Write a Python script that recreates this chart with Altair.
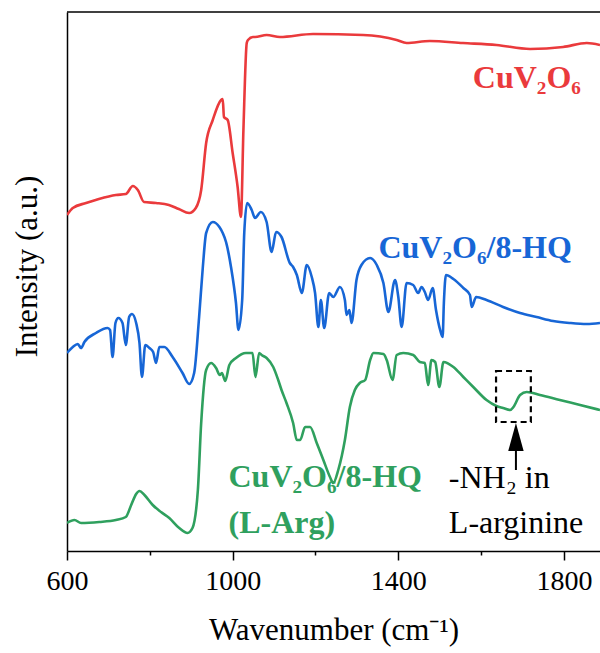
import altair as alt
import pandas as pd

# ---- data (wavenumber in cm-1, intensity in a.u.) ----
red_wn = [600, 614, 646, 677, 718, 742, 759, 771, 786, 815, 846, 870, 895, 911, 924, 936, 952, 972, 976, 979,
          988, 1000, 1012, 1020, 1026, 1034, 1037, 1049, 1054, 1082, 1114, 1194, 1315, 1396, 1420, 1476, 1556,
          1637, 1718, 1798, 1855, 1887]
red_int = [336, 343, 348, 352, 356, 357, 365, 361, 349, 348, 346, 342, 338, 343, 361, 408, 431, 451, 452, 434,
           431, 398, 364, 334, 421, 508, 511, 514, 514, 516, 514, 517, 516, 511, 508, 510, 508,
           506, 502, 504, 508, 506]

blue_wn = [600, 614, 626, 634, 642, 670, 698, 704, 710, 717, 724, 734, 742, 750, 757, 767, 775, 781, 789, 799,
           808, 815, 823, 835, 855, 879, 895, 907, 919, 928, 936, 952, 968, 976, 984, 996, 1008, 1014, 1023,
           1028, 1035, 1046, 1054, 1068, 1082, 1094, 1105, 1118, 1138, 1146, 1155, 1167, 1179, 1191, 1199,
           1207, 1213, 1221, 1233, 1243, 1259, 1271, 1275, 1282, 1287, 1299, 1311, 1332, 1348, 1364, 1376,
           1392, 1400, 1408, 1420, 1436, 1448, 1456, 1464, 1472, 1483, 1491, 1501, 1507, 1510, 1515, 1533,
           1557, 1573, 1577, 1588, 1613, 1653, 1694, 1734, 1774, 1815, 1855, 1887]
blue_int = [198, 204, 207, 203, 209, 218, 223, 221, 194, 228, 233, 228, 206, 234, 237, 228, 208, 174, 206, 203,
            199, 188, 204, 204, 194, 178, 167, 178, 234, 284, 318, 329, 324, 318, 309, 284, 248, 221, 251,
            318, 348, 341, 333, 339, 329, 299, 319, 314, 288, 284, 276, 258, 286, 274, 258,
            224, 251, 223, 258, 254, 264, 251, 236, 241, 228, 271, 286, 293, 286, 268, 239,
            271, 254, 224, 268, 266, 258, 264, 259, 251, 263, 241, 221, 214, 248, 276, 272,
            263, 256, 244, 254, 251, 244, 238, 234, 230, 228, 227, 228]

green_wn = [600, 618, 634, 678, 718, 742, 755, 767, 775, 787, 807, 827, 847, 871, 891, 903, 916, 924, 936, 948,
            960, 969, 974, 982, 992, 1008, 1032, 1048, 1055, 1064, 1070, 1082, 1098, 1110, 1118, 1130, 1146,
            1155, 1163, 1175, 1187, 1203, 1219, 1235, 1243, 1255, 1271, 1283, 1295, 1307, 1320, 1332, 1340,
            1364, 1372, 1386, 1396, 1412, 1436, 1452, 1464, 1472, 1480, 1489, 1499, 1509, 1533, 1557, 1581,
            1613, 1637, 1653, 1670, 1678, 1694, 1710, 1742, 1790, 1839, 1887]
green_int = [28, 31, 28, 29, 31, 34, 46, 57, 60, 56, 46, 39, 33, 23, 18, 23, 61, 128, 181, 188,
             183, 176, 178, 170, 186, 193, 198, 198, 174, 198, 196, 193, 184, 171, 161, 148, 128,
             111, 111, 124, 124, 108, 91, 74, 68, 81, 111, 144, 161, 168, 171, 191, 198,
             197, 191, 171, 196, 198, 196, 189, 188, 166, 191, 189, 164, 189, 184, 174, 164,
             151, 145, 143, 141, 144, 156, 159, 156, 151, 146, 141]

series_names = ["CuV2O6", "CuV2O6/8-HQ", "CuV2O6/8-HQ (L-Arg)"]
series_colors = ["#EA3A3C", "#1766D6", "#2FA05E"]

label_text = ["CuV₂O₆", "CuV₂O₆/8-HQ", "CuV₂O₆/8-HQ", "(L-Arg)"]
label_series = ["CuV2O6", "CuV2O6/8-HQ", "CuV2O6/8-HQ (L-Arg)", "CuV2O6/8-HQ (L-Arg)"]
label_wn = [1580, 1352, 990, 990]
label_int = [463, 293, 64, 18]

note_text = ["-NH₂ in", "L-arginine"]
note_wn = [1522, 1522]
note_int = [63, 18]

box_wn = [1636, 1720]
box_int = [129, 180]
arrow_wn = 1684
arrow_shaft = [81, 101]
arrow_head = 114

x_ticks = [600, 800, 1000, 1200, 1400, 1600, 1800]
x_domain = [600, 1887]
y_domain = [0, 539]

FONT = "Liberation Serif"

rows = []
for name, wn, it in zip(series_names, [red_wn, blue_wn, green_wn], [red_int, blue_int, green_int]):
    for i, (w, v) in enumerate(zip(wn, it)):
        rows.append({"series": name, "wn": w, "intensity": v, "idx": i})
df = pd.DataFrame(rows)

color_scale = alt.Scale(domain=series_names, range=series_colors)

x_enc = alt.X(
    "wn:Q",
    scale=alt.Scale(domain=x_domain, nice=False, zero=False),
    title="Wavenumber (cm⁻¹)",
    axis=alt.Axis(
        values=x_ticks,
        labelExpr="datum.value % 400 == 200 ? datum.label : ''",
        tickSize={"condition": {"test": "datum.value % 400 == 0", "value": 4}, "value": 9},
        grid=False,
        domainColor="black", domainWidth=1.5,
        tickColor="black", tickWidth=1.5,
        labelFont=FONT, labelFontSize=28, labelColor="black", labelPadding=7,
        labelFlush=False, labelOverlap=False, format="d",
        titleFont=FONT, titleFontSize=31, titleFontWeight="normal", titleColor="black",
        titlePadding=20,
    ),
)
y_enc = alt.Y(
    "intensity:Q",
    scale=alt.Scale(domain=y_domain, nice=False, zero=False),
    title="Intensity (a.u.)",
    axis=alt.Axis(
        labels=False, ticks=False, grid=False,
        domainColor="black", domainWidth=1.5,
        titleFont=FONT, titleFontSize=31, titleFontWeight="normal", titleColor="black",
        titlePadding=24, titleY=254,
    ),
)

lines = alt.Chart(df).mark_line(strokeWidth=2.6, clip=True, interpolate="monotone").encode(
    x=x_enc, y=y_enc,
    color=alt.Color("series:N", scale=color_scale, legend=None),
    order="idx:Q",
)

top_border = alt.Chart(pd.DataFrame({"intensity": [y_domain[1]]})).mark_rule(
    color="black", strokeWidth=1.5
).encode(y="intensity:Q")

labels_df = pd.DataFrame({"text": label_text, "series": label_series, "wn": label_wn, "intensity": label_int})
labels = alt.Chart(labels_df).mark_text(
    font=FONT, fontSize=32, fontWeight="bold", align="left", baseline="alphabetic"
).encode(
    x="wn:Q", y="intensity:Q", text="text:N",
    color=alt.Color("series:N", scale=color_scale, legend=None),
)

notes_df = pd.DataFrame({"text": note_text, "wn": note_wn, "intensity": note_int})
notes = alt.Chart(notes_df).mark_text(
    font=FONT, fontSize=32, align="left", baseline="alphabetic", color="black"
).encode(x="wn:Q", y="intensity:Q", text="text:N")

box_df = pd.DataFrame({"wn": [box_wn[0]], "wn2": [box_wn[1]], "intensity": [box_int[0]], "intensity2": [box_int[1]]})
box = alt.Chart(box_df).mark_rect(
    fill=None, fillOpacity=0, stroke="black", strokeWidth=2.2, strokeDash=[6, 4]
).encode(x="wn:Q", x2="wn2:Q", y="intensity:Q", y2="intensity2:Q")

shaft_df = pd.DataFrame({"wn": [arrow_wn], "intensity": [arrow_shaft[0]], "intensity2": [arrow_shaft[1]]})
shaft = alt.Chart(shaft_df).mark_rule(color="black", strokeWidth=2).encode(
    x="wn:Q", y="intensity:Q", y2="intensity2:Q"
)
head_df = pd.DataFrame({"wn": [arrow_wn], "intensity": [arrow_head]})
head = alt.Chart(head_df).mark_point(
    shape="M0,-1L0.55,1L-0.55,1Z", filled=True, color="black", opacity=1, size=784
).encode(x="wn:Q", y="intensity:Q")

chart = alt.layer(lines, top_border, labels, notes, box, shaft, head).properties(
    width=533, height=539,
    padding={"left": 67, "top": 12, "right": 0, "bottom": 102},
    autosize=alt.AutoSizeParams(type="none"),
    background="white",
).configure_view(stroke=None)

chart.save("out.html", embed_options={"renderer": "svg", "actions": False})
